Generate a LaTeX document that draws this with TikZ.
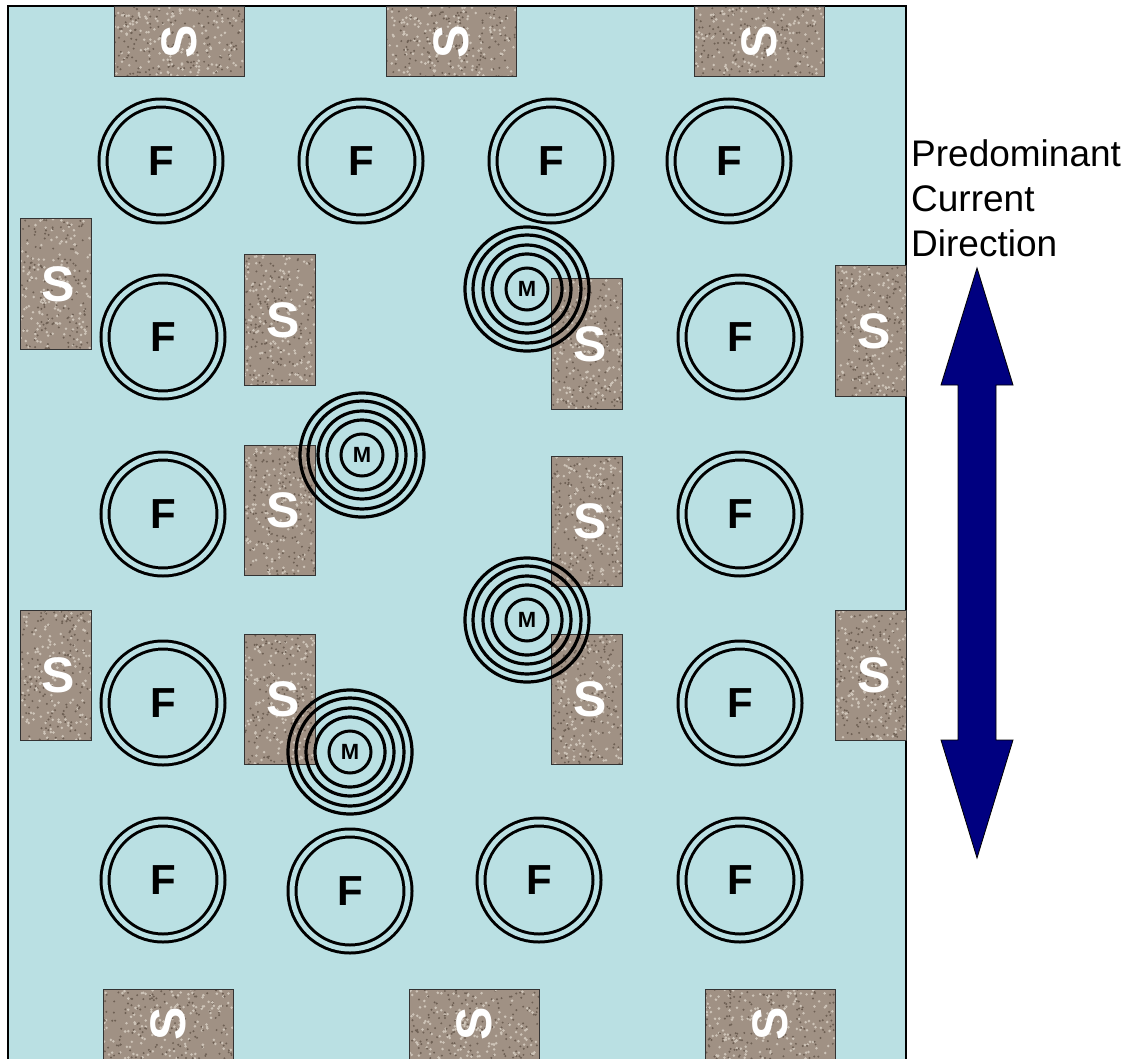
\documentclass[tikz,border=0pt]{standalone}
\usepackage{fontspec}
\setmainfont{Liberation Sans}
\usetikzlibrary{calc}
\definecolor{water}{RGB}{186,224,227}
\definecolor{stone}{RGB}{160,145,132}
\definecolor{stoneL}{RGB}{206,196,184}
\definecolor{stoneD}{RGB}{110,96,84}
\definecolor{arrowblue}{RGB}{0,0,128}
\tikzset{
  x=1pt,y=-1pt,
  speckle/.style={path picture={
      \coordinate (sw) at (path picture bounding box.south west);
      \coordinate (ne) at (path picture bounding box.north east);
      \foreach \i in {1,...,150}{
        \pgfmathsetmacro\u{rnd}\pgfmathsetmacro\v{rnd}
        \fill[stoneL] let \p1=(sw),\p2=(ne) in ({\x1+\u*(\x2-\x1)},{\y1+\v*(\y2-\y1)}) circle[radius=1.4pt];
        \pgfmathsetmacro\u{rnd}\pgfmathsetmacro\v{rnd}
        \fill[stoneD] let \p1=(sw),\p2=(ne) in ({\x1+\u*(\x2-\x1)},{\y1+\v*(\y2-\y1)}) circle[radius=1.1pt];
      }}},
  stonebox/.style={draw=black!80, line width=1pt, fill=stone, speckle, inner sep=0pt,
     text=white, font=\fontsize{50}{50}\selectfont\bfseries},
  vbox/.style={stonebox, minimum width=71pt, minimum height=130pt},
  hbox/.style={stonebox, minimum width=130pt, minimum height=70pt},
  fring/.style={circle, draw, line width=3pt, minimum size=116pt, inner sep=0pt,
     double=water, double distance=5pt, font=\fontsize{42}{42}\selectfont\bfseries},
  mring/.style={circle, line width=3pt, inner sep=0pt,
     font=\fontsize{22}{22}\selectfont\bfseries},
  lbl/.style={anchor=base west, inner sep=0pt, font=\fontsize{37}{37}\selectfont},
}
\begin{document}
\begin{tikzpicture}
\pgfmathsetseed{7}
\useasboundingbox (0,0) rectangle (1132,1059);
% water background
\fill[water] (8,6) rectangle (906,1065);
\draw[line width=1.5pt] (8,1065) -- (8,6) -- (906,6) -- (906,1065);
% stone boxes, top and bottom (rotated S)
\node[hbox] (st1) at (179,42) {\rotatebox{90}{S}};
\node[hbox] (st2) at (451,42) {\rotatebox{90}{S}};
\node[hbox] (st3) at (759,42) {\rotatebox{90}{S}};
\node[hbox] (sb1) at (168,1024) {\rotatebox{90}{S}};
\node[hbox] (sb2) at (474,1024) {\rotatebox{90}{S}};
\node[hbox] (sb3) at (770,1024) {\rotatebox{90}{S}};
% vertical stone boxes
\node[vbox] (sl1) at (55.5,284) {\hspace{6pt}S};
\node[vbox] (sl2) at (55.5,675) {\hspace{6pt}S};
\node[vbox] (sc1) at (280,320) {\hspace{6pt}S};
\node[vbox] (sc2) at (280,510) {\hspace{6pt}S};
\node[vbox] (sc3) at (280,699) {\hspace{6pt}S};
\node[vbox] (sd1) at (587,344) {\hspace{6pt}S};
\node[vbox] (sd2) at (587,521) {\hspace{6pt}S};
\node[vbox] (sd3) at (587,699) {\hspace{6pt}S};
\node[vbox] (sr1) at (871,331) {\hspace{6pt}S};
\node[vbox] (sr2) at (871,675) {\hspace{6pt}S};
% F rings
\foreach \n/\x/\y in {f1/161/161, f2/361/161, f3/551/161, f4/729/161,
                      f5/163/337, f6/740/337,
                      f7/163/514, f8/740/514,
                      f9/163/703, f10/740/703,
                      f11/163/880, f12/350/891, f13/539/880, f14/740/880}
  \node[fring] (\n) at (\x,\y) {F};
% M rings
\foreach \n/\x/\y in {m1/527/289, m2/362/455, m3/527/620, m4/350/752}{
  \node[mring, draw, minimum size=42pt] (\n) at (\x,\y) {M};
  \foreach \r in {35,44,54,62}
    \draw[line width=3.2pt] (\n.center) circle[radius=\r];
}
% current direction
\node[lbl] (t1) at (911,167) {Predominant};
\node[lbl] (t2) at (911,212) {Current};
\node[lbl] (t3) at (911,257) {Direction};
\draw[fill=arrowblue, line width=0.8pt, line join=miter]
  (977,268) -- (1013,385) -- (996,385) -- (996,740) -- (1013,740) -- (977,858)
  -- (941,740) -- (958,740) -- (958,385) -- (941,385) -- cycle;
\end{tikzpicture}
\end{document}
